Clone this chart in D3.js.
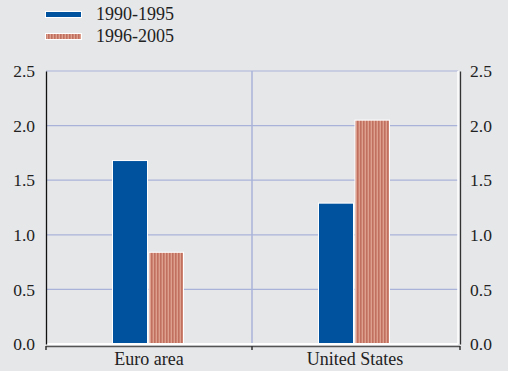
<!DOCTYPE html>
<html><head><meta charset="utf-8">
<script src="https://cdn.jsdelivr.net/npm/d3@7"></script>
<style>html,body{margin:0;padding:0;background:#e6e7e9;}svg{display:block;}</style>
</head><body><svg id="c" width="508" height="371"></svg>
<script>
const categories = ["Euro area", "United States"];
const seriesNames = ["1990-1995", "1996-2005"];
const values1990_1995 = [1.68, 1.29];
const values1996_2005 = [0.84, 2.05];
const yTicks = [0.0, 0.5, 1.0, 1.5, 2.0, 2.5];

const svg = d3.select("#c");
const W = 508, H = 371;
const m = {l: 46, r: 50, t: 71, b: 27};
const blue = "#00529f";
const font = "Liberation Serif";

svg.append("rect").attr("width", W).attr("height", H).attr("fill", "#e6e7e9");

const defs = svg.append("defs");
const pat = defs.append("pattern").attr("id", "hatch").attr("patternUnits", "userSpaceOnUse")
  .attr("width", 3).attr("height", 10);
pat.append("rect").attr("width", 3).attr("height", 10).attr("fill", "#dda08f");
pat.append("rect").attr("width", 1.6).attr("height", 10).attr("fill", "#c1705f");

const x = d3.scaleBand().domain(categories).range([m.l, W - m.r]);
const y = d3.scaleLinear().domain([0, 2.5]).range([H - m.b, m.t]);

svg.append("g").selectAll("line").data(yTicks.slice(1)).join("line")
  .attr("x1", m.l).attr("x2", W - m.r)
  .attr("y1", d => y(d)).attr("y2", d => y(d))
  .attr("stroke", "#a9b3da").attr("stroke-width", 1.2);

svg.append("line").attr("x1", x(categories[1])).attr("x2", x(categories[1]))
  .attr("y1", y(2.5)).attr("y2", y(0)).attr("stroke", "#a9b3da").attr("stroke-width", 1.5);

const inner = d3.scaleBand().domain(seriesNames).range([0, 72]).padding(0);
const groups = svg.append("g").selectAll("g").data(categories).join("g")
  .attr("transform", d => `translate(${x(d) + x.bandwidth()/2 - 37},0)`);
groups.append("rect")
  .attr("x", inner(seriesNames[0]) + 0.5)
  .attr("width", inner.bandwidth() - 1)
  .attr("y", (d, i) => y(values1990_1995[i]))
  .attr("height", (d, i) => y(0) - y(values1990_1995[i]))
  .attr("fill", blue).attr("stroke", "#ffffff").attr("stroke-width", 1);
groups.append("rect")
  .attr("x", inner(seriesNames[1]) + 1.0)
  .attr("width", inner.bandwidth() - 1.5)
  .attr("y", (d, i) => y(values1996_2005[i]))
  .attr("height", (d, i) => y(0) - y(values1996_2005[i]))
  .attr("fill", "url(#hatch)").attr("stroke", "#ffffff").attr("stroke-width", 1);

svg.append("line").attr("x1", m.l).attr("x2", W - m.r).attr("y1", y(0)).attr("y2", y(0))
  .attr("stroke", "#ffffff").attr("stroke-width", 2);
svg.append("line").attr("x1", m.l).attr("x2", W - m.r + 2).attr("y1", y(0) + 2.5).attr("y2", y(0) + 2.5)
  .attr("stroke", "#555555").attr("stroke-width", 1.5);
[m.l, x(categories[1]), W - m.r + 2].forEach(px => {
  svg.append("line").attr("x1", px).attr("x2", px).attr("y1", y(0) + 2).attr("y2", y(0) + 6)
    .attr("stroke", "#333").attr("stroke-width", 1.5);
});

const yAxisL = d3.axisLeft(y).tickValues(yTicks).tickFormat(d3.format(".1f")).tickSize(0).tickPadding(11);
const gl = svg.append("g").attr("transform", `translate(${m.l},0)`).call(yAxisL);
gl.attr("font-family", font).attr("font-size", 17.5);
gl.select(".domain").attr("stroke", "#111").attr("stroke-width", 1.3);
gl.selectAll("text").attr("fill", "#222");

const yAxisR = d3.axisRight(y).tickValues(yTicks).tickFormat(d3.format(".1f")).tickSize(0).tickPadding(10);
const gr = svg.append("g").attr("transform", `translate(${W - m.r + 2},0)`).call(yAxisR);
gr.attr("font-family", font).attr("font-size", 17.5);
gr.select(".domain").attr("stroke", "#333").attr("stroke-width", 1.3);
gr.selectAll("text").attr("fill", "#222");
svg.append("line").attr("x1", W - m.r).attr("x2", W - m.r).attr("y1", y(2.5)).attr("y2", y(0))
  .attr("stroke", "#ffffff").attr("stroke-width", 1.5);

svg.append("g").selectAll("text").data(categories).join("text")
  .attr("x", d => x(d) + x.bandwidth()/2).attr("y", 365)
  .attr("text-anchor", "middle").attr("font-family", font).attr("font-size", 18).attr("fill", "#222")
  .text(d => d);

const leg = svg.append("g");
const legFills = [blue, "url(#hatch)"];
seriesNames.forEach((s, i) => {
  leg.append("rect").attr("x", 45.5).attr("y", 11.5 + i * 22).attr("width", 36).attr("height", 6)
    .attr("fill", legFills[i]).attr("stroke", "#ffffff").attr("stroke-width", 1);
  leg.append("text").attr("x", 96).attr("y", 20 + i * 22)
    .attr("font-family", font).attr("font-size", 18).attr("fill", "#222").text(s);
});
</script></body></html>
